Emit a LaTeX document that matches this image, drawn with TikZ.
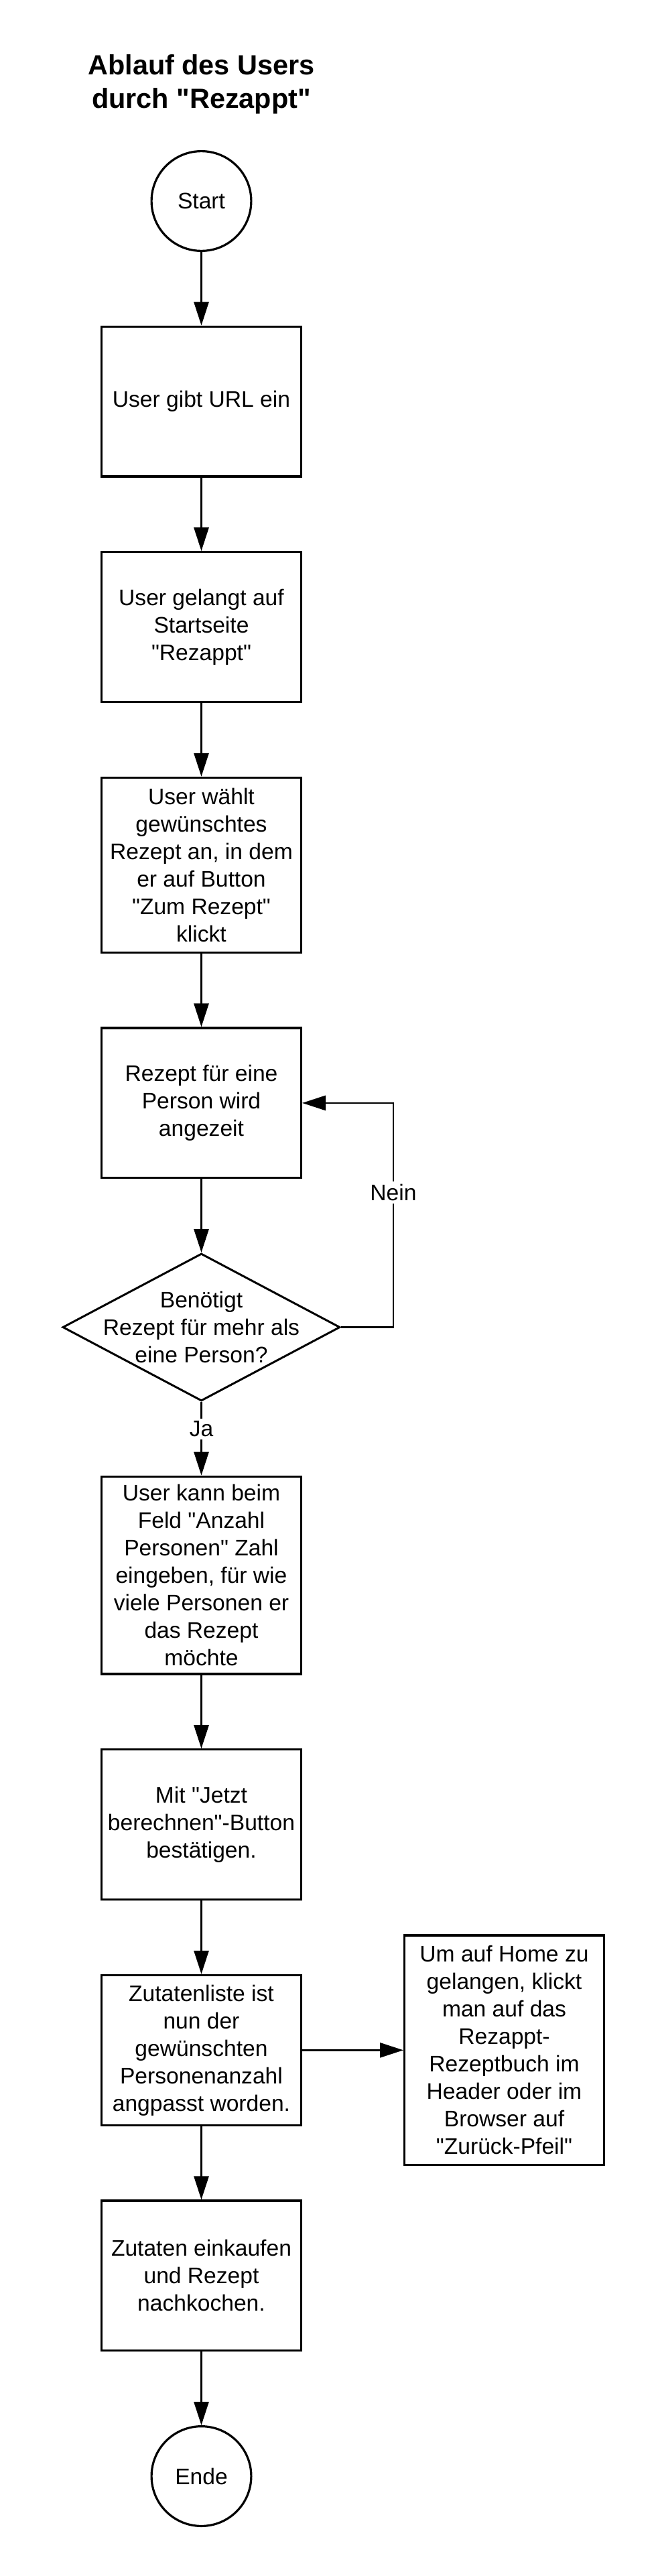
\documentclass[tikz,border=0pt]{standalone}
\usepackage{fontspec}
\setmainfont{Liberation Sans}[Ligatures=TeXOff]
\usetikzlibrary{arrows.meta}
\usetikzlibrary{shapes.geometric,positioning}

\begin{document}
\begin{tikzpicture}[
        node distance=54.8pt,
        boxtext/.style={font=\fontsize{16.8}{20.5}\selectfont},
        flowbox/.style={rectangle, draw=black, line width=1.6pt, align=center, minimum width=148.9pt, minimum height=111.9pt, inner sep=4pt, boxtext},
        terminal/.style={circle, draw=black, line width=1.6pt, minimum size=74.4pt, inner sep=0pt, boxtext},
        decision/.style={diamond, draw=black, line width=1.5pt, minimum width=207pt, minimum height=110pt, inner sep=0pt},
        flowarrow/.style={line width=1.4pt, -{Triangle[length=17.5pt,width=11pt]}},
        edgelabel/.style={fill=white, inner sep=2pt, boxtext}
      ]
        \useasboundingbox (0,0) rectangle (487.5pt,-1922pt);

        \node (title) [align=center, font=\bfseries\fontsize{20.7}{25.25}\selectfont] at (150.25pt,-63pt) {Ablauf des Users\\durch "Rezappt"};

        \node (start) [terminal] at (150.25pt,-150pt) {Start};
        \node (url) [flowbox, below=of start] {User gibt URL ein};
        \node (startpage) [flowbox, below=of url] {User gelangt auf\\Startseite\\"Rezappt"};
        \node (choose) [flowbox, below=of startpage, minimum height=130.4pt] {User wählt\\gewünschtes\\Rezept an, in dem\\er auf Button\\"Zum Rezept"\\klickt};
        \node (single) [flowbox, below=of choose] {Rezept für eine\\Person wird\\angezeit};
        \node (decide) [decision, below=of single, label={[align=center, boxtext]center:Benötigt\\Rezept für mehr als\\eine Person?}] {};
        \node (count) [flowbox, below=of decide, minimum height=147.4pt] {User kann beim\\Feld "Anzahl\\Personen" Zahl\\eingeben, für wie\\viele Personen er\\das Rezept\\möchte};
        \node (confirm) [flowbox, below=of count] {Mit "Jetzt\\berechnen"-Button\\bestätigen.};
        \node (adjusted) [flowbox, below=of confirm] {Zutatenliste ist\\nun der\\gewünschten\\Personenanzahl\\angpasst worden.};
        \node (home) [flowbox, right=75.5pt of adjusted, minimum height=171.4pt] {Um auf Home zu\\gelangen, klickt\\man auf das\\Rezappt-\\Rezeptbuch im\\Header oder im\\Browser auf\\"Zurück-Pfeil"};
        \node (cook) [flowbox, below=of adjusted] {Zutaten einkaufen\\und Rezept\\nachkochen.};
        \node (ende) [terminal, below=of cook] {Ende};

        \draw[flowarrow] (start) -- (url);
        \draw[flowarrow] (url) -- (startpage);
        \draw[flowarrow] (startpage) -- (choose);
        \draw[flowarrow] (choose) -- (single);
        \draw[flowarrow] (single) -- (decide);
        \draw[flowarrow] (decide.east) -- ++(39pt,0) |- node[edgelabel, pos=0.3] {Nein} (single.east);
        \draw[flowarrow] (decide.south) -- node[edgelabel, pos=0.37] {Ja} (count.north);
        \draw[flowarrow] (count) -- (confirm);
        \draw[flowarrow] (confirm) -- (adjusted);
        \draw[flowarrow] (adjusted) -- (home);
        \draw[flowarrow] (adjusted) -- (cook);
        \draw[flowarrow] (cook) -- (ende);
      \end{tikzpicture}
\end{document}
